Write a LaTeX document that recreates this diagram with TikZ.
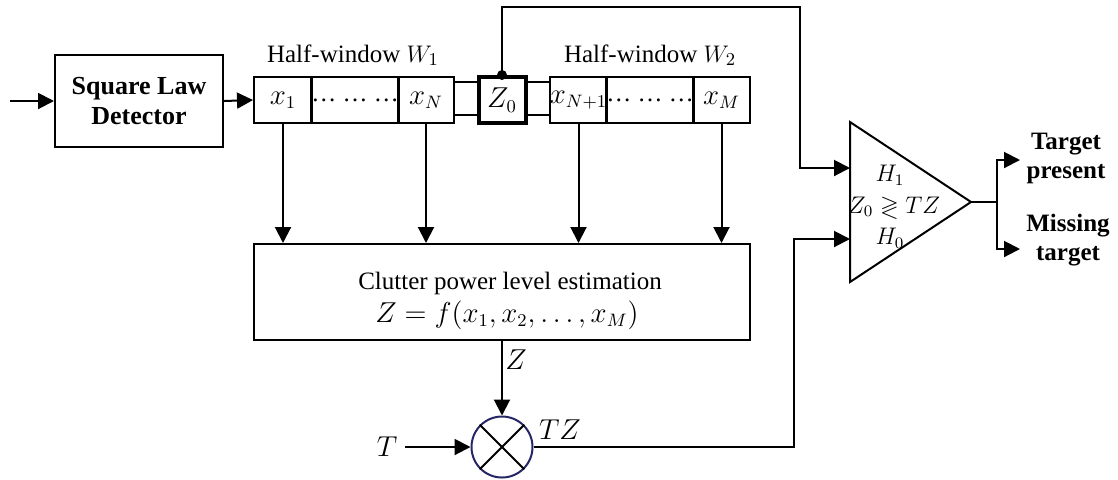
\documentclass[tikz,border=0pt]{standalone}
\usepackage{amssymb}
\usepackage{fontspec}
\setmainfont{Liberation Serif}
\usetikzlibrary{arrows.meta,calc}
\begin{document}
\begin{tikzpicture}[x=0.5pt,y=-0.5pt,
  line width=1pt,
  >={Triangle[length=8pt,width=8pt]},
  every node/.style={font=\fontsize{12.5}{15}\selectfont},
  cell/.style={draw,rectangle,inner sep=0pt,minimum height=23pt,font=\fontsize{13.5}{15}\selectfont},
  blk/.style={draw,rectangle,inner sep=0pt,align=center},
  lbl/.style={inner sep=0pt,align=center},
  mlbl/.style={inner sep=0pt,align=center,font=\fontsize{13.5}{15}\selectfont},
  clbl/.style={inner sep=0pt,align=center,font=\fontsize{12}{14}\selectfont},
  bold/.style={font=\fontsize{12.5}{14.5}\selectfont\bfseries,inner sep=0pt,align=center}]
\useasboundingbox (0,0) rectangle (1118,479);
% square law detector
\node[blk,minimum width=84pt,minimum height=46pt,font=\fontsize{13}{15}\selectfont\bfseries] (sld) at (139,101) {Square Law\\Detector};
\coordinate (in) at (10,101);
% cells
\node[cell,minimum width=29pt] (c1) at (283,100) {$x_1$};
\node[cell,minimum width=43pt,font=\fontsize{12.5}{15}\selectfont] (c2) at (355,100) {… … …};
\node[cell,minimum width=28pt] (c3) at (426,100) {$x_N$};
\node[cell,minimum width=23.5pt,line width=2pt] (z0) at (502,100) {$Z_0$};
\node[cell,minimum width=28.5pt] (c4) at (578.5,100) {$x_{N+1}$};
\node[cell,minimum width=43pt,font=\fontsize{12.5}{15}\selectfont] (c5) at (650,100) {… … …};
\node[cell,minimum width=28.5pt] (c6) at (721.5,100) {$x_M$};
\node[lbl] (w1) at (353,55) {Half-window $W_1$};
\node[lbl] (w2) at (650,55) {Half-window $W_2$};
% connecting double lines
\draw ($(c3.east)+(0,-18)$) -- ($(z0.west)+(0,-18)$);
\draw ($(c3.east)+(0,15)$) -- ($(z0.west)+(0,15)$);
\draw ($(z0.east)+(0,-18)$) -- ($(c4.west)+(0,-18)$);
\draw ($(z0.east)+(0,15)$) -- ($(c4.west)+(0,15)$);
% estimation
\node[blk,minimum width=248pt,minimum height=48pt] (est) at (502,292) {};
\node[lbl] (estt) at (510,283) {Clutter power level estimation};
\node[mlbl] (estf) at (507,315) {$Z=f(x_1,x_2,\dots,x_M)$};
% multiplier
\node[draw=blue!30!black!85,circle,minimum size=30.5pt,inner sep=0pt] (mul) at (502,447) {};
\draw (mul.north east) -- (mul.south west);
\draw (mul.north west) -- (mul.south east);
\node[mlbl] (tl) at (387,447) {$T$};
\coordinate (tin) at (405,447);
\node[mlbl] (zl) at (516,360) {$Z$};
\node[mlbl] (tzl) at (560,430) {$TZ$};
% comparator
\coordinate (tA) at (850,122);
\coordinate (tip) at (971,202);
\coordinate (tB) at (850,282);
\draw (tA) -- (tip) -- (tB) -- cycle;
\coordinate (cmpA) at (850,168);
\coordinate (cmpB) at (850,239);
\node[clbl] (h1) at (890,175) {$H_1$};
\node[clbl] (cmp) at (894,207) {$Z_0\gtrless TZ$};
\node[clbl] (h0) at (890,238) {$H_0$};
\coordinate (br) at (997,202);
\coordinate (oA) at (1020,160);
\coordinate (oB) at (1020,249);
\node[bold] (tp) at (1066,158) {Target\\present};
\node[bold] (mt) at (1068,240) {Missing\\target};
% connectors
\draw[->] (in) -- (sld.west);
\draw[->] (sld.east) -- (c1.west);
\foreach \c in {c1,c3,c4,c6} \draw[->] (\c.south) -- (est.north -| \c.south);
\draw[->] (est.south -| mul.north) -- (mul.north);
\draw[->] (tin) -- (mul.west);
\draw[->] (mul.east) -| (794,239) -- (cmpB);
\fill (z0.north) circle (2.5pt);
\draw[->] (z0.north) -- (502,7) -| (800,168) -- (cmpA);
\draw (tip) -- (br);
\draw[->] (br) |- (oA);
\draw[->] (br) |- (oB);
\end{tikzpicture}
\end{document}
